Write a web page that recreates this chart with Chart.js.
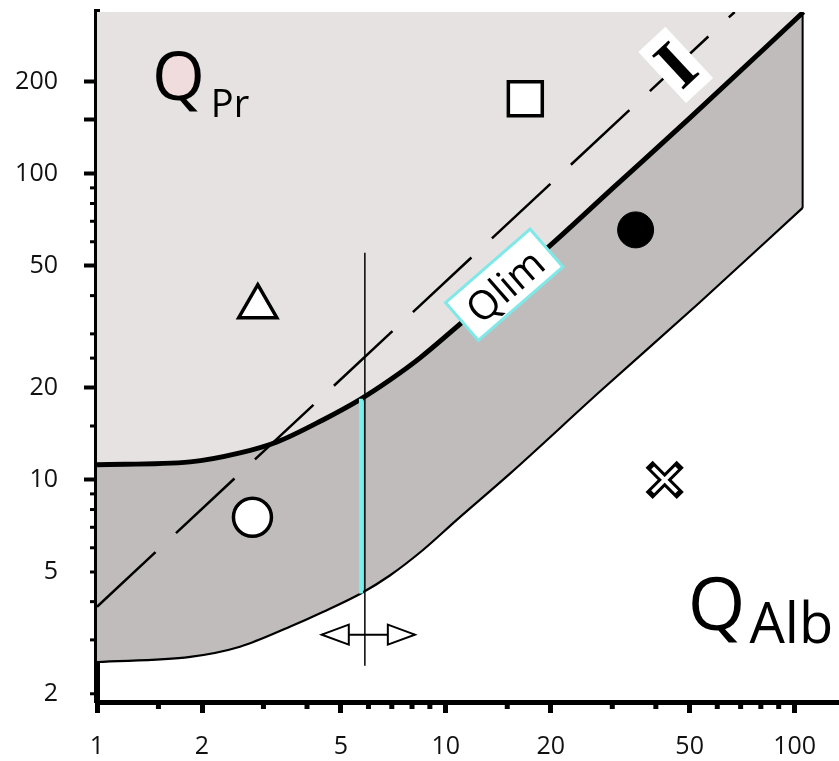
<!DOCTYPE html>
<html><head><meta charset="utf-8">
<script src="https://cdn.jsdelivr.net/npm/chart.js@4.4.1/dist/chart.umd.min.js"></script>
<style>html,body{margin:0;padding:0;background:#fff;}#wrap{width:839px;height:761px;position:relative;}</style>
</head><body><div id="wrap"><canvas id="c"></canvas></div>
<script>
// ---- axes ----
const xRange = [1, 134];
const yRange = [1.88, 338];
const xTickValues = [1,1.5,2,3,4,5,6,7,8,9,10,15,20,30,40,50,60,70,80,90,100];
const xMajorTicks = [1,2,5,10,20,50,100];
const xTickLabels = {1:'1',2:'2',5:'5',10:'10',20:'20',50:'50',100:'100'};
const yTickValues = [2,3,4,5,6,7,8,9,10,15,20,25,30,40,50,60,70,80,90,100,150,200];
const yMajorTicks = [10,20,50,100,150,200];
const yTickLabels = {2:'2',5:'5',10:'10',20:'20',50:'50',100:'100',200:'200'};

// ---- curves ----
const qlimX = [1, 1.85, 2.57, 3.28, 4.44, 5.67, 6.91, 8.42, 10.5, 20.3, 30, 50, 106];
const qlimY = [11.2, 11.45, 12.25, 13.3, 15.7, 18.3, 21.2, 25.0, 30.9, 59.5, 89.5, 152, 338];
const lowX = [1, 1.85, 2.57, 3.57, 4.44, 5.74, 6.91, 8.6, 10.75, 15.3, 27.6, 53.4, 105.4];
const lowY = [2.54, 2.64, 2.85, 3.31, 3.70, 4.27, 4.87, 5.90, 7.40, 10.5, 19.4, 38.0, 77.4];
const edgeX = [105.4, 105.4];
const edgeY = [77.4, 330];
const lineIX = [1, 67.3];
const lineIY = [3.85, 338];
const cutX = [5.86, 5.86];
const cutY = [2.47, 55.2];
const cyanX = [5.71, 5.71];
const cyanY = [4.25, 18.4];
const arrowX = [4.41, 8.15];
const arrowY = [3.12, 3.12];

// ---- markers ----
const triX = [2.89], triY = [36.8];
const circX = [2.79], circY = [7.55];
const sqX = [16.9], sqY = [176];
const discX = [35.0], discY = [65.6];
const crossX = [42.4], crossY = [10.0];

// ---- labels ----
const regionLabels = [
  {main:'Q', sub:'Pr', x:1.437, y:174.6},
  {main:'Q', sub:'Alb', x:49.4, y:3.23}
];
const lineLabels = [
  {text:'Qlim', x:14.7, y:43.4},
  {text:'I', x:45.6, y:227}
];
// label styles (index-matched to regionLabels)
const regionStyles = [
  {qSize: 68, subSize: 38, drop: 17, gap: 6, tint: '#f1dcdd'},
  {qSize: 74, subSize: 56, drop: 13, gap: 4, tint: null}
];

const pts = (xs, ys) => xs.map((x, i) => ({x, y: ys[i]}));

const annot = {
  id: 'annot',
  afterDatasetsDraw(chart) {
    const {ctx} = chart;
    const xs = chart.scales.x, ys = chart.scales.y;
    const X = v => xs.getPixelForValue(v), Y = v => ys.getPixelForValue(v);
    ctx.save();
    const ay = Y(arrowY[0]);
    const drawHead = (tip, dir) => {
      ctx.beginPath();
      ctx.moveTo(tip, ay);
      ctx.lineTo(tip + dir * 27, ay - 10);
      ctx.lineTo(tip + dir * 27, ay + 10);
      ctx.closePath();
      ctx.fillStyle = '#fff'; ctx.fill();
      ctx.lineWidth = 2; ctx.strokeStyle = '#000'; ctx.stroke();
    };
    drawHead(X(arrowX[0]), 1);
    drawHead(X(arrowX[1]), -1);
    lineLabels.forEach(l => {
      ctx.save();
      ctx.translate(X(l.x), Y(l.y));
      if (l.text === 'Qlim') {
        ctx.rotate(-41 * Math.PI / 180);
        ctx.fillStyle = '#fff'; ctx.fillRect(-56, -25, 112, 50);
        ctx.strokeStyle = '#7fe8e8'; ctx.lineWidth = 3; ctx.strokeRect(-56, -25, 112, 50);
        ctx.font = '40px "Open Sans"';
      } else {
        ctx.rotate(-43 * Math.PI / 180);
        ctx.fillStyle = '#fff'; ctx.fillRect(-18.5, -35, 37, 70);
        ctx.font = 'bold 70px "Liberation Serif"';
      }
      ctx.fillStyle = '#000'; ctx.textAlign = 'center'; ctx.textBaseline = 'alphabetic';
      const m = ctx.measureText(l.text);
      ctx.fillText(l.text, 0, (m.actualBoundingBoxAscent - (l.text === 'I' ? m.actualBoundingBoxDescent : 0)) / 2);
      ctx.restore();
    });
    regionLabels.forEach((r, i) => {
      const st = regionStyles[i];
      const px = X(r.x), py = Y(r.y);
      ctx.font = st.qSize + 'px "Open Sans"';
      const qw = ctx.measureText(r.main).width;
      if (st.tint) {
        ctx.beginPath();
        ctx.ellipse(px + qw / 2, py - st.qSize * 0.37, 21, 23, 0, 0, Math.PI * 2);
        ctx.fillStyle = st.tint; ctx.fill();
      }
      ctx.fillStyle = '#000'; ctx.textAlign = 'left'; ctx.textBaseline = 'alphabetic';
      ctx.fillText(r.main, px, py);
      ctx.font = st.subSize + 'px "Open Sans"';
      ctx.fillText(r.sub, px + qw + st.gap, py + st.drop);
    });
    ctx.restore();
  },
  afterDraw(chart) {
    const {ctx} = chart;
    const xs = chart.scales.x, ys = chart.scales.y;
    const ca = chart.chartArea;
    ctx.save();
    ctx.fillStyle = '#000';
    xTickValues.filter(v => !xMajorTicks.includes(v)).forEach(v => {
      const p = xs.getPixelForValue(v);
      ctx.fillRect(p - 2.5, ca.bottom, 5, 7);
    });
    yTickValues.filter(v => !yMajorTicks.includes(v)).forEach(v => {
      const p = ys.getPixelForValue(v);
      ctx.fillRect(ca.left - 7, p - 1.5, 7, 3);
    });
    ctx.restore();
  }
};

const lineBase = {pointRadius: 0, fill: false, tension: 0};
new Chart(document.getElementById('c'), {
  type: 'line',
  data: { datasets: [
    Object.assign({}, lineBase, {label: 'Qlim', data: pts(qlimX, qlimY), borderColor: '#000', borderWidth: 5,
      fill: 'end', backgroundColor: '#e7e2e2', cubicInterpolationMode: 'monotone', order: 8}),
    Object.assign({}, lineBase, {label: 'lower', data: pts(lowX, lowY), borderColor: '#000', borderWidth: 2.2,
      fill: {target: 0}, backgroundColor: '#c1bcbc', cubicInterpolationMode: 'monotone', order: 9}),
    Object.assign({}, lineBase, {label: 'edge', data: pts(edgeX, edgeY), borderColor: '#000', borderWidth: 2, order: 7}),
    Object.assign({}, lineBase, {label: 'I', data: pts(lineIX, lineIY), borderColor: '#000', borderWidth: 2.5, borderDash: [80, 28], order: 6}),
    Object.assign({}, lineBase, {label: 'cyan', data: pts(cyanX, cyanY), borderColor: '#74f2ee', borderWidth: 4, order: 5}),
    Object.assign({}, lineBase, {label: 'cut', data: pts(cutX, cutY), borderColor: '#000', borderWidth: 1.5, order: 4}),
    Object.assign({}, lineBase, {label: 'arrow', data: pts(arrowX, arrowY), borderColor: '#000', borderWidth: 2, order: 4}),
    {label: 'triangle', data: pts(triX, triY), showLine: false, pointStyle: 'triangle', pointRadius: 22, borderWidth: 3.5, borderColor: '#000', backgroundColor: '#fff', order: 1},
    {label: 'circle', data: pts(circX, circY), showLine: false, pointStyle: 'circle', pointRadius: 19, borderWidth: 3.5, borderColor: '#000', backgroundColor: '#fff', order: 1},
    {label: 'square', data: pts(sqX, sqY), showLine: false, pointStyle: 'rect', pointRadius: 24, borderWidth: 3.5, borderColor: '#000', backgroundColor: '#fff', order: 1},
    {label: 'disc', data: pts(discX, discY), showLine: false, pointStyle: 'circle', pointRadius: 18, borderWidth: 1, borderColor: '#000', backgroundColor: '#000', order: 1},
    {label: 'crossOut', data: pts(crossX, crossY), showLine: false, pointStyle: 'crossRot', pointRadius: 22, borderWidth: 10, borderColor: '#000', backgroundColor: '#000', order: 1},
    {label: 'crossIn', data: pts(crossX, crossY), showLine: false, pointStyle: 'crossRot', pointRadius: 17, borderWidth: 4, borderColor: '#fff', backgroundColor: '#fff', order: 0}
  ]},
  options: {
    responsive: true, maintainAspectRatio: false, animation: false,
    layout: {autoPadding: false, padding: {top: 12, right: 0, left: 0, bottom: 0}},
    plugins: {legend: {display: false}, tooltip: {enabled: false}},
    scales: {
      x: {
        type: 'logarithmic', min: xRange[0], max: xRange[1], position: 'bottom',
        afterBuildTicks: s => { s.ticks = xTickValues.map(v => ({value: v, major: xMajorTicks.includes(v)})); },
        afterFit: s => { s.height = 59; s.paddingLeft = 0; s.paddingRight = 0; },
        ticks: {autoSkip: false, maxRotation: 0, minRotation: 0, padding: 19, color: '#111',
          font: {family: 'Open Sans', size: 25}, callback: v => xTickLabels[v] || ''},
        grid: {display: true, drawOnChartArea: false, drawTicks: true, tickLength: 11, tickWidth: 5,
          tickColor: c => (c.tick && c.tick.major) ? '#000' : 'rgba(0,0,0,0)'},
        border: {display: true, color: '#000', width: 5}
      },
      y: {
        type: 'logarithmic', min: yRange[0], max: yRange[1], position: 'left',
        afterBuildTicks: s => { s.ticks = yTickValues.map(v => ({value: v, major: yMajorTicks.includes(v)})); },
        afterFit: s => { s.width = 97; s.paddingTop = 0; s.paddingBottom = 0; },
        ticks: {autoSkip: false, padding: 26, color: '#111',
          font: {family: 'Open Sans', size: 25}, callback: v => yTickLabels[v] || ''},
        grid: {display: true, drawOnChartArea: false, drawTicks: true, tickLength: 13, tickWidth: 4,
          tickColor: c => (c.tick && c.tick.major) ? '#000' : 'rgba(0,0,0,0)'},
        border: {display: true, color: '#000', width: 6}
      }
    }
  },
  plugins: [annot]
});
</script></body></html>
